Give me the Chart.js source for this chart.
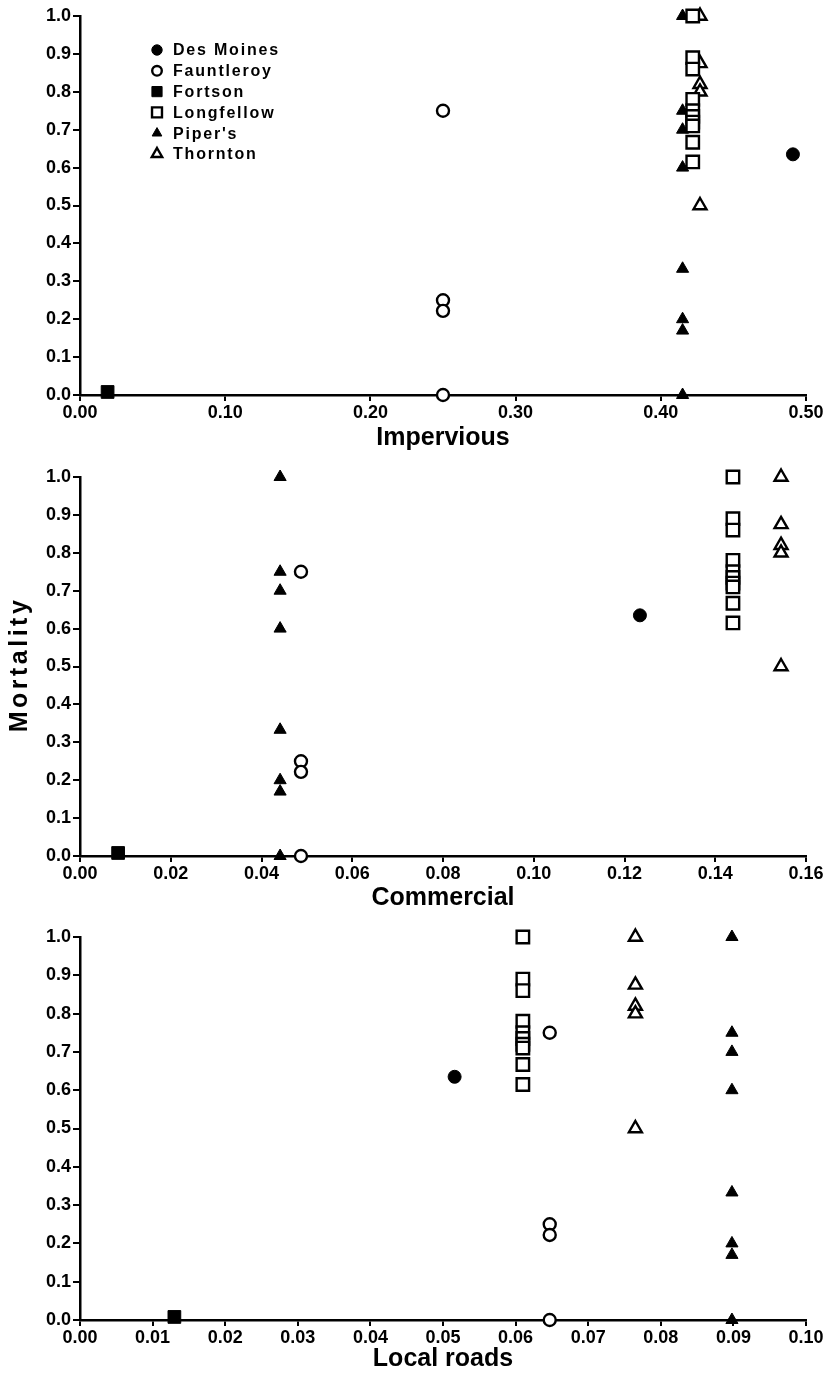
<!DOCTYPE html>
<html><head><meta charset="utf-8">
<script src="https://cdn.jsdelivr.net/npm/chart.js@4.4.1/dist/chart.umd.min.js"></script>
<style>
html,body{margin:0;padding:0;background:#fff;}
#wrap{position:relative;width:828px;height:1376px;background:#fff;}
.panel{position:absolute;left:0;width:828px;}
canvas{display:block;}
</style></head><body>
<div id="wrap">
<div class="panel" style="top:0;height:455px"><canvas id="c1" width="828" height="455"></canvas></div>
<div class="panel" style="top:455px;height:460px"><canvas id="c2" width="828" height="460"></canvas></div>
<div class="panel" style="top:915px;height:461px"><canvas id="c3" width="828" height="461"></canvas></div>
</div>
<script>
// ---- data ----
const sites = ['Des Moines', 'Fauntleroy', 'Fortson', 'Longfellow', "Piper's", 'Thornton'];
const mortDesMoines = [0.635];
const mortFauntleroy = [0.75, 0.25, 0.222, 0.0];
const mortFortson = [0.008];
const mortLongfellow = [1.0, 0.89, 0.86, 0.78, 0.75, 0.735, 0.72, 0.71, 0.667, 0.615];
const mortPipers = [1.0, 0.75, 0.70, 0.60, 0.333, 0.20, 0.17, 0.0];
const mortThornton = [1.0, 0.875, 0.82, 0.80, 0.50];
const impervious = [0.491, 0.25, 0.019, 0.422, 0.415, 0.427];
const commercial = [0.1234, 0.0487, 0.0084, 0.1439, 0.0441, 0.1545];
const localRoads = [0.0516, 0.0647, 0.013, 0.061, 0.0898, 0.0765];
const yTickLabels = ['0.0','0.1','0.2','0.3','0.4','0.5','0.6','0.7','0.8','0.9','1.0'];
const yTitleText = 'Mortality';

const mortality = [mortDesMoines, mortFauntleroy, mortFortson, mortLongfellow, mortPipers, mortThornton];

// ---- styles ----
const markerStyles = [
  {pointStyle: 'circle',   radius: 6.5, bg: '#000', bw: 1},
  {pointStyle: 'circle',   radius: 6,   bg: '#fff', bw: 2.4},
  {pointStyle: 'rect',     radius: 9,   bg: '#000', bw: 1},
  {pointStyle: 'rect',     radius: 8.8, bg: '#fff', bw: 2.4},
  {pointStyle: 'triangle', radius: 7,   bg: '#000', bw: 1},
  {pointStyle: 'triangle', radius: 7.5, bg: '#fff', bw: 2.4}
];
const FONT = '"Liberation Sans", Arial, Helvetica, sans-serif';

const legendPlugin = {
  id: 'siteLegend',
  afterDatasetsDraw(chart) {
    const ctx = chart.ctx;
    ctx.save();
    sites.forEach((name, i) => {
      const y = 50 + i * 20.8;
      const st = markerStyles[i];
      ctx.fillStyle = st.bg;
      ctx.strokeStyle = '#000';
      ctx.lineWidth = st.bw;
      Chart.helpers.drawPoint(ctx, {pointStyle: st.pointStyle, radius: st.radius * 0.8, rotation: 0, borderWidth: st.bw}, 157, y);
      ctx.fillStyle = '#000';
      ctx.font = 'bold 16px ' + FONT;
      if ('letterSpacing' in ctx) ctx.letterSpacing = '1.8px';
      ctx.textBaseline = 'middle';
      ctx.textAlign = 'left';
      ctx.fillText(name, 173, y + 1);
    });
    ctx.restore();
  }
};

const yTitlePlugin = {
  id: 'yTitle',
  afterDraw(chart) {
    const ctx = chart.ctx;
    const area = chart.chartArea;
    ctx.save();
    ctx.translate(20, (area.top + area.bottom) / 2);
    ctx.rotate(-Math.PI / 2);
    ctx.fillStyle = '#000';
    ctx.font = 'bold 25px ' + FONT;
    if ('letterSpacing' in ctx) ctx.letterSpacing = '3.5px';
    ctx.textAlign = 'center';
    ctx.textBaseline = 'middle';
    ctx.fillText(yTitleText, 2, 0);
    ctx.restore();
  }
};

function makeChart(id, xVals, xMax, xStep, xTitle, yTitle, withLegend, padTop, xAxisH) {
  const datasets = sites.map((name, i) => ({
    label: name,
    data: mortality[i].map(m => ({x: xVals[i], y: m})),
    pointStyle: markerStyles[i].pointStyle,
    pointRadius: markerStyles[i].radius,
    pointBackgroundColor: markerStyles[i].bg,
    pointBorderColor: '#000',
    pointBorderWidth: markerStyles[i].bw,
    showLine: false,
    clip: false
  }));
  const tickFont = {family: FONT, weight: 'bold', size: 18};
  const titleFont = {family: FONT, weight: 'bold', size: 25};
  const plugins = [];
  if (withLegend) plugins.push(legendPlugin);
  if (yTitle) plugins.push(yTitlePlugin);
  return new Chart(document.getElementById(id), {
    type: 'scatter',
    data: {datasets},
    plugins: plugins,
    options: {
      responsive: false,
      animation: false,
      events: [],
      layout: {padding: {top: padTop, right: 22, left: 0, bottom: 0}},
      plugins: {legend: {display: false}, tooltip: {enabled: false}},
      scales: {
        x: {
          type: 'linear', min: 0, max: xMax,
          ticks: {stepSize: xStep, callback: v => v.toFixed(2), font: tickFont, color: '#000', padding: 1, maxRotation: 0, autoSkip: false},
          grid: {drawOnChartArea: false, drawTicks: true, tickLength: 6, color: '#000', lineWidth: 2},
          border: {display: true, color: '#000', width: 2.5},
          title: {display: true, text: xTitle, font: titleFont, color: '#000', padding: {top: 0, bottom: 2}},
          afterFit: s => { s.height = xAxisH; }
        },
        y: {
          type: 'linear', min: 0, max: 1,
          ticks: {stepSize: 0.1, callback: v => yTickLabels[Math.round(v * 10)], font: tickFont, color: '#000', padding: 2, autoSkip: false},
          grid: {drawOnChartArea: false, drawTicks: true, tickLength: 7, color: '#000', lineWidth: 2},
          border: {display: true, color: '#000', width: 2.5},
          title: {display: false},
          afterFit: s => { s.width = 80; }
        }
      }
    }
  });
}

makeChart('c1', impervious, 0.5, 0.1, 'Impervious', false, true, 16, 60);
makeChart('c2', commercial, 0.16, 0.02, 'Commercial', true, false, 22, 59);
makeChart('c3', localRoads, 0.10, 0.01, 'Local roads', false, false, 22, 56);
</script>
</body></html>
